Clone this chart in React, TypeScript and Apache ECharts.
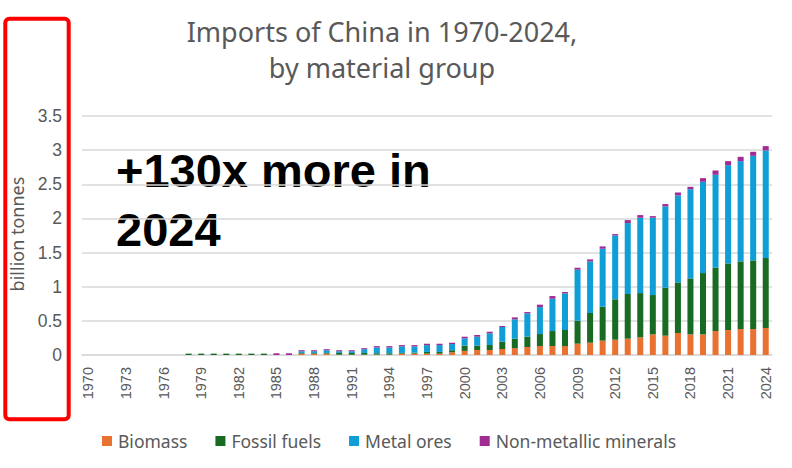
import React, { useEffect, useRef } from "react";
import * as echarts from "echarts";

const years: string[] = [];
for (let y = 1970; y <= 2024; y++) years.push(String(y));

// billion tonnes, per material group (1970..2024)
const biomass = [
  0, 0, 0, 0, 0, 0, 0, 0, 0, 0, // 1970-1979
  0, 0, 0, 0, 0, 0, 0, 0.02, 0.02, 0.02, // 1980-1989
  0.005, 0.005, 0.005, 0.005, 0.005, 0.02, 0.02, 0.02, 0.02, 0.04, // 1990-1999
  0.06, 0.073, 0.073, 0.088, 0.1, 0.117, 0.132, 0.132, 0.132, 0.166, // 2000-2009
  0.18, 0.21, 0.224, 0.239, 0.259, 0.302, 0.283, 0.322, 0.302, 0.302, // 2010-2019
  0.351, 0.366, 0.38, 0.38, 0.395, // 2020-2024
];
const fossilFuels = [
  0, 0, 0, 0, 0, 0, 0, 0, 0.02, 0.02,
  0.02, 0.02, 0.02, 0.02, 0.02, 0, 0, 0.01, 0.01, 0.01,
  0.025, 0.025, 0.025, 0.02, 0.02, 0.01, 0.015, 0.025, 0.025, 0.03,
  0.077, 0.064, 0.073, 0.107, 0.139, 0.151, 0.175, 0.219, 0.234, 0.336,
  0.435, 0.497, 0.591, 0.654, 0.648, 0.576, 0.702, 0.741, 0.82, 0.898,
  0.927, 0.975, 0.991, 1.005, 1.025,
];
const metalOres = [
  0, 0, 0, 0, 0, 0, 0, 0, 0, 0,
  0, 0, 0, 0, 0, 0, 0, 0.025, 0.025, 0.04,
  0.025, 0.025, 0.055, 0.085, 0.085, 0.095, 0.09, 0.1, 0.1, 0.09,
  0.107, 0.131, 0.171, 0.215, 0.283, 0.342, 0.395, 0.473, 0.536, 0.747,
  0.756, 0.849, 0.936, 1.039, 1.103, 1.132, 1.191, 1.274, 1.307, 1.337,
  1.361, 1.439, 1.468, 1.532, 1.575,
];
const nonMetallic = [
  0, 0, 0, 0, 0, 0, 0, 0, 0, 0,
  0, 0, 0, 0, 0, 0.025, 0.025, 0.015, 0.015, 0.015,
  0.015, 0.015, 0.015, 0.02, 0.02, 0.02, 0.02, 0.02, 0.02, 0.02,
  0.024, 0.025, 0.024, 0.014, 0.029, 0.019, 0.035, 0.039, 0.02, 0.029,
  0.029, 0.034, 0.02, 0.044, 0.039, 0.024, 0.034, 0.043, 0.034, 0.053,
  0.063, 0.059, 0.063, 0.059, 0.064,
];

const seriesNames = ["Biomass", "Fossil fuels", "Metal ores", "Non-metallic minerals"];
const seriesColors = ["#E97132", "#196B24", "#0F9ED5", "#A02B93"];
const seriesData = [biomass, fossilFuels, metalOres, nonMetallic];

const titleLines = ["Imports of China in 1970-2024,", "by material group"];
const annotationLines = ["+130x more in", "2024"];
const yAxisTitle = "billion tonnes";

export default function App() {
  const ref = useRef<HTMLDivElement>(null);
  useEffect(() => {
    if (!ref.current) return;
    const chart = echarts.init(ref.current, undefined, { renderer: "svg" });
    const gray = "#595959";
    chart.setOption({
      animation: false,
      backgroundColor: "#ffffff",
      grid: { left: 82, right: 20, top: 116, bottom: 113, containLabel: false },
      legend: {
        left: 97,
        top: 427,
        icon: "rect",
        itemWidth: 10,
        itemHeight: 10,
        itemGap: 28,
        textStyle: { color: gray, fontSize: 17.5, fontFamily: "Noto Sans", padding: [0, 0, 0, 1] },
        data: seriesNames,
      },
      xAxis: {
        type: "category",
        data: years,
        axisLine: { lineStyle: { color: "#D9D9D9", width: 1.5 } },
        axisTick: { show: false },
        axisLabel: {
          rotate: 90,
          interval: 2,
          color: gray,
          fontSize: 14.5,
          fontFamily: "Liberation Sans",
          margin: 12,
        },
      },
      yAxis: {
        type: "value",
        min: 0,
        max: 3.5,
        interval: 0.5,
        axisLine: { show: false },
        axisTick: { show: false },
        splitLine: { lineStyle: { color: "#D9D9D9", width: 1.5 } },
        axisLabel: {
          color: gray,
          fontSize: 17.5,
          fontFamily: "Liberation Sans",
          margin: 20,
        },
      },
      series: seriesNames.map((name, i) => ({
        name,
        type: "bar",
        stack: "total",
        barWidth: "48%",
        data: seriesData[i],
        itemStyle: { color: seriesColors[i] },
      })),
      graphic: [
        {
          type: "text",
          x: 382,
          y: 31,
          style: {
            text: titleLines[0],
            fill: gray,
            font: "27px 'Noto Sans'",
            textAlign: "center",
            textVerticalAlign: "middle",
          },
        },
        {
          type: "text",
          x: 382,
          y: 67,
          style: {
            text: titleLines[1],
            fill: gray,
            font: "27px 'Noto Sans'",
            textAlign: "center",
            textVerticalAlign: "middle",
          },
        },
        {
          type: "text",
          x: 116,
          y: 170,
          style: {
            text: annotationLines[0],
            fill: "#000000",
            font: "bold 47px 'Liberation Sans'",
            textAlign: "left",
            textVerticalAlign: "middle",
          },
        },
        {
          type: "text",
          x: 116,
          y: 229,
          style: {
            text: annotationLines[1],
            fill: "#000000",
            font: "bold 47px 'Liberation Sans'",
            textAlign: "left",
            textVerticalAlign: "middle",
          },
        },
        {
          type: "text",
          x: 17,
          y: 234,
          rotation: Math.PI / 2,
          style: {
            text: yAxisTitle,
            fill: gray,
            font: "18px 'Noto Sans'",
            textAlign: "center",
            textVerticalAlign: "middle",
          },
        },
        {
          type: "rect",
          shape: { x: 5.3, y: 18.8, width: 63.4, height: 400.4, r: 4 },
          style: { fill: "none", stroke: "#FF0000", lineWidth: 4 },
        },
      ],
    });
    return () => chart.dispose();
  }, []);
  return (
    <div
      ref={ref}
      style={{ position: "fixed", left: 0, top: 0, width: 792, height: 468 }}
    />
  );
}
